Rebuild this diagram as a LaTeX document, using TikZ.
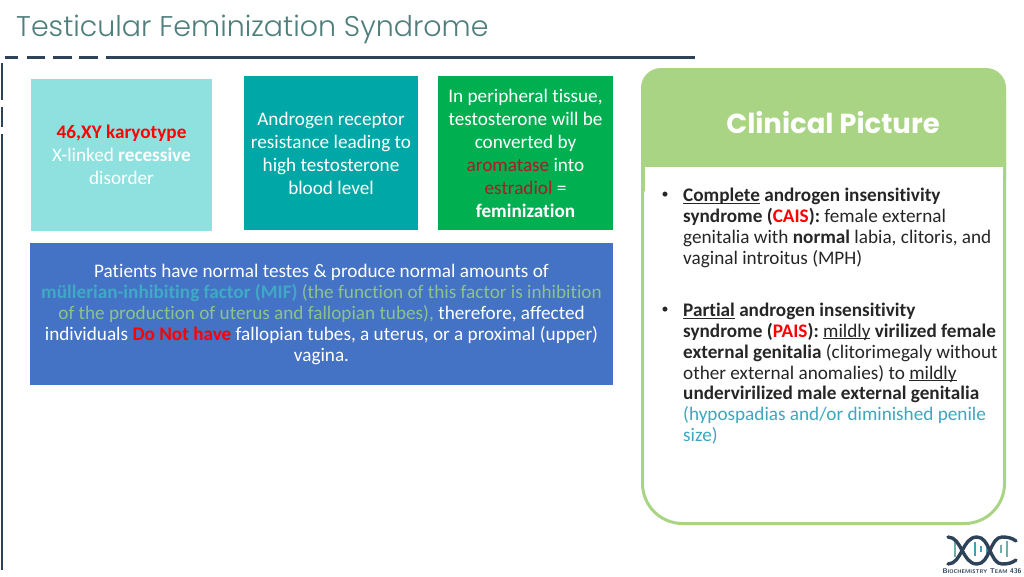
\documentclass[tikz,border=0pt]{standalone}
\usepackage{fontspec}
\setmainfont[Ligatures=NoCommon]{Carlito}
\newfontfamily\titlefont{Poppins Light}
\newfontfamily\headfont{Poppins}
\definecolor{rulec}{HTML}{2E4358}
\definecolor{titlec}{HTML}{4F7F7C}
\definecolor{pale}{HTML}{8FE1E0}
\definecolor{teal}{HTML}{00A7A7}
\definecolor{grn}{HTML}{00AF50}
\definecolor{blu}{HTML}{4472C4}
\definecolor{pgreen}{HTML}{A9D483}
\definecolor{mif}{HTML}{3FA9C6}
\definecolor{fn}{HTML}{8DC28F}
\definecolor{dred}{HTML}{A81E24}
\definecolor{rred}{HTML}{FF0000}
\definecolor{hyp}{HTML}{3FA6C0}
\definecolor{bodyc}{HTML}{262626}
\definecolor{barc}{HTML}{6EAFAA}
\definecolor{barb}{HTML}{3FA0B5}
\newsavebox{\ulbox}
\newcommand{\ul}[1]{\sbox{\ulbox}{#1}\rlap{\rule[-1.9pt]{\wd\ulbox}{0.9pt}}\usebox{\ulbox}}
\tikzset{
  rulel/.style={draw=rulec,line width=2.6pt},
  cbox/.style={inner sep=0pt,align=center,text=white,font=\fontsize{19.2}{23}\selectfont},
  plist/.style={inner sep=0pt,align=left,anchor=north west,text=bodyc,font=\fontsize{19.2}{20.8}\selectfont},
  bull/.style={inner sep=0pt,text=bodyc,font=\fontsize{14}{15}\selectfont},
  dna/.style={line width=3.4pt,draw=rulec,line cap=round},
  dnabar/.style={line width=2.6pt}
}
\begin{document}
\begin{tikzpicture}[x=1pt,y=-1pt]
\useasboundingbox (0,0) rectangle (1024,576);
\fill[white] (0,0) rectangle (1024,576);
% title and rules
\node[anchor=west,inner sep=0pt,text=titlec,font=\titlefont\fontsize{28.5}{32}\selectfont] (title) at (16,29) {Testicular Feminization Syndrome};
\foreach \a/\b in {5/18,27/45,53/72,79/98,106/695} \draw[rulel] (\a,57.5) -- (\b,57.5);
\foreach \a/\b in {63/100,107/127,134/570} \draw[rulel] (2,\a) -- (2,\b);
% boxes
\fill[pale] (31,79) rectangle (212,231);
\fill[teal] (244,76) rectangle (418,230);
\fill[grn] (438,76) rectangle (613,230);
\fill[blu] (30,243) rectangle (613,385);
\node[cbox] (karyo) at (121.5,154.5) {\textcolor{rred}{\textbf{46,XY karyotype}}\\X-linked \textbf{recessive}\\disorder};
\node[cbox] (recep) at (331,153) {Androgen receptor\\resistance leading to\\high testosterone\\blood level};
\node[cbox] (tissue) at (525.5,153) {In peripheral tissue,\\testosterone will be\\converted by\\\textcolor{dred}{aromatase} into\\\textcolor{dred}{estradiol} =\\\textbf{feminization}};
\node[cbox,font=\fontsize{19.2}{20.8}\selectfont] (mifnode) at (321.5,314.5) {Patients have normal testes \& produce normal amounts of\\
\textcolor{mif}{\textbf{müllerian-inhibiting factor (MIF)}} \textcolor{fn}{(the function of this factor is inhibition}\\
\textcolor{fn}{of the production of uterus and fallopian tubes),} therefore, affected\\
individuals \textcolor{rred}{\textbf{Do Not have}} fallopian tubes, a uterus, or a proximal (upper)\\
vagina.};
% panel
\draw[draw=pgreen,line width=3pt,fill=white,rounded corners=40pt] (642.5,100) -- (642.5,523.5) -- (1004.5,523.5) -- (1004.5,100);
\fill[pgreen,rounded corners=20pt] (641,200) -- (641,68) -- (1006,68) -- (1006,200) -- cycle;
\fill[white] (644.5,167) rectangle (1003,215);
\node[inner sep=0pt,text=white,font=\headfont\bfseries\fontsize{27.5}{32}\selectfont] (head) at (833,123) {Clinical Picture};
\node[bull] (b1) at (665,195) {•};
\node[plist] (cais) at (683,188) {\ul{\textbf{Complete}} \textbf{androgen insensitivity}\\
\textbf{syndrome (}\textcolor{rred}{\textbf{CAIS}}\textbf{):} female external\\
genitalia with \textbf{normal} labia, clitoris, and\\
vaginal introitus (MPH)};
\node[bull] (b2) at (665,310) {•};
\node[plist] (pais) at (683,303) {\ul{\textbf{Partial}} \textbf{androgen insensitivity}\\
\textbf{syndrome (}\textcolor{rred}{\textbf{PAIS}}\textbf{):} \ul{mildly} \textbf{virilized female}\\
\textbf{external genitalia} (clitorimegaly without\\
other external anomalies) to \ul{mildly}\\
\textbf{undervirilized male external genitalia}\\
\textcolor{hyp}{(hypospadias and/or diminished penile}\\
\textcolor{hyp}{size)}};
% logo
\foreach \x/\t/\h in {955/541/557,961/546/553,1001/545/553,1007/541/557}
  \draw[dnabar,draw=barc] (\x,\t) -- (\x,\h);
\foreach \x/\t/\h in {975/542/556,981/546/552,987/542/556}
  \draw[dnabar,draw=barb] (\x,\t) -- (\x,\h);
\draw[dna] (948,537) .. controls (962,537) and (962,564) .. (977,564) .. controls (990,564) and (990,537) .. (1002,537) .. controls (1008,537) and (1012,538) .. (1016,541);
\draw[dna] (948,564) .. controls (962,564) and (962,537) .. (977,537) .. controls (990,537) and (990,564) .. (1002,564) .. controls (1008,564) and (1012,563) .. (1016,560);
\node[inner sep=0pt,text=rulec,font=\sffamily\bfseries\fontsize{6.9}{7}\selectfont] (logotext) at (982,571) {B{\fontsize{5.4}{7}\selectfont IOCHEMISTRY} T{\fontsize{5.4}{7}\selectfont EAM} 436};
\end{tikzpicture}
\end{document}
